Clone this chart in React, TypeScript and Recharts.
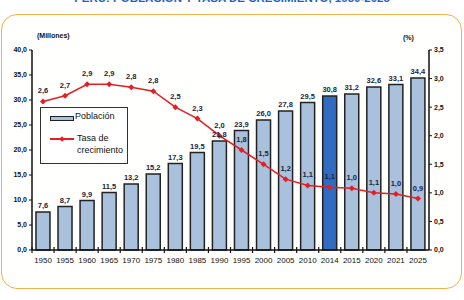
import React from 'react';
import {
    ComposedChart,
    Bar,
    Line,
    XAxis,
    YAxis,
    Cell,
    LabelList,
} from 'recharts';

const years = ['1950', '1955', '1960', '1965', '1970', '1975', '1980', '1985', '1990', '1995', '2000', '2005', '2010', '2014', '2015', '2020', '2021', '2025'];
const poblacion = [7.6, 8.7, 9.9, 11.5, 13.2, 15.2, 17.3, 19.5, 21.8, 23.9, 26.0, 27.8, 29.5, 30.8, 31.2, 32.6, 33.1, 34.4];
const tasa = [2.6, 2.7, 2.9, 2.9, 2.85, 2.78, 2.5, 2.3, 2.0, 1.75, 1.5, 1.24, 1.13, 1.1, 1.08, 1.0, 0.98, 0.9];
const tasaLabels = ['2,6', '2,7', '2,9', '2,9', '2,8', '2,8', '2,5', '2,3', '2,0', '1,8', '1,5', '1,2', '1,1', '1,1', '1,0', '1,1', '1,0', '0,9'];
const leftTicks = [0, 5, 10, 15, 20, 25, 30, 35, 40];
const rightTicks = [0, 0.5, 1, 1.5, 2, 2.5, 3, 3.5];
const highlightYear = '2014';

const data = years.map((y, i) => ({ year: y, pob: poblacion[i], tasa: tasa[i], tl: tasaLabels[i] }));

const FONT = 'Liberation Sans, Arial, sans-serif';
const BAR = '#a9c1dd';
const BAR_HI = '#2f6cc2';
const RED = '#e51e25';
const INK = '#1b2440';

const fmt = (v: number) => v.toFixed(1).replace('.', ',');

// legend drawn by hand, sits over the plot like in the original
const LegendBox = () => (
    <div style={{ position: 'absolute', left: 40, top: 107, width: 88, height: 57, border: '1.5px solid #333', background: '#fff', fontFamily: FONT, fontSize: 9, color: '#111', boxSizing: 'border-box' }}>
        <div style={{ position: 'absolute', left: 9, top: 8, width: 22, height: 3, background: BAR, border: '1.5px solid #222' }} />
        <div style={{ position: 'absolute', left: 34, top: 3 }}>Población</div>
        <div style={{ position: 'absolute', left: 9, top: 30, width: 24, height: 1.5, background: RED }} />
        <div style={{ position: 'absolute', left: 18.5, top: 28.7, width: 4, height: 4, background: RED, transform: 'rotate(45deg)' }} />
        <div style={{ position: 'absolute', left: 36, top: 24, lineHeight: '12px' }}>Tasa de<br />crecimiento</div>
    </div>
);

const Dot = (p: any) => {
    const { cx, cy } = p;
    if (cx == null || cy == null) return null;
    return <path d={`M${cx},${cy - 3}L${cx + 3},${cy}L${cx},${cy + 3}L${cx - 3},${cy}Z`} fill={RED} />;
};

// year label plus a small tick mark on the band edge (between bars)
const YearTick = (p: any) => {
    const { x, y, payload } = p;
    const off = payload.offset || 0;
    return (
        <g>
            <line x1={x - off} x2={x - off} y1={y - 3} y2={y + 3} stroke="#111" strokeWidth={1.2} />
            <text x={x} y={y + 13} textAnchor="middle" fontSize={8} fill="#111" fontFamily={FONT}>{payload.value}</text>
        </g>
    );
};

export default function App() {
    return (
        <div style={{ position: 'absolute', left: 0, top: 0, width: 464, height: 300, background: '#fff', overflow: 'hidden', fontFamily: FONT }}>
            <div style={{ position: 'absolute', left: 0, width: 464, top: -8, textAlign: 'center', color: '#1f63c6', fontWeight: 'bold', fontSize: 11.5 }}>
                PERÚ: POBLACIÓN Y TASA DE CRECIMIENTO, 1950-2025
            </div>
            <div style={{ position: 'absolute', left: 1, top: 14, width: 461, height: 275, border: '1.5px solid #f0b24a', borderRadius: 16, boxSizing: 'border-box', background: '#fffffd' }} />
            <div style={{ position: 'absolute', left: 37, top: 32, fontSize: 7, fontWeight: 'bold', color: '#111' }}>(Millones)</div>
            <div style={{ position: 'absolute', left: 403, top: 34, fontSize: 7, fontWeight: 'bold', color: '#111' }}>(%)</div>
            <div style={{ position: 'absolute', left: 0, top: 0 }}>
                <ComposedChart width={464} height={300} data={data} margin={{ top: 50, right: 0, left: 0, bottom: 0 }} barCategoryGap="18%">
                    <XAxis dataKey="year" height={50} interval={0} tickSize={0} tickMargin={0} tickLine={false} axisLine={{ stroke: '#111', strokeWidth: 1.5 }} tick={<YearTick />} />
                    <YAxis yAxisId="l" domain={[0, 40]} ticks={leftTicks} width={32} tickSize={3} tickFormatter={fmt} axisLine={{ stroke: '#111', strokeWidth: 1.5 }} tickLine={{ stroke: '#111' }} tick={{ fontSize: 7, fill: '#111', fontWeight: 'bold', fontFamily: FONT }} />
                    <YAxis yAxisId="r" orientation="right" domain={[0, 3.5]} ticks={rightTicks} width={35} tickSize={3} tickFormatter={fmt} axisLine={{ stroke: '#111', strokeWidth: 1.5 }} tickLine={{ stroke: '#111' }} tick={{ fontSize: 7, fill: '#111', fontWeight: 'bold', fontFamily: FONT }} />
                    <Bar yAxisId="l" dataKey="pob" stroke="#222" strokeWidth={1.5} isAnimationActive={false}>
                        {data.map((d) => (
                            <Cell key={d.year} fill={d.year === highlightYear ? BAR_HI : BAR} />
                        ))}
                        <LabelList dataKey="pob" position="top" offset={4} formatter={(v: any) => fmt(Number(v))} style={{ fontSize: 7.5, fill: INK, fontWeight: 'bold', fontFamily: FONT }} />
                    </Bar>
                    <Line yAxisId="r" dataKey="tasa" stroke={RED} strokeWidth={1.5} dot={<Dot />} activeDot={false} isAnimationActive={false}>
                        <LabelList dataKey="tl" position="top" offset={8} style={{ fontSize: 7.5, fill: INK, fontWeight: 'bold', fontFamily: FONT }} />
                    </Line>
                </ComposedChart>
            </div>
            <LegendBox />
        </div>
    );
}
